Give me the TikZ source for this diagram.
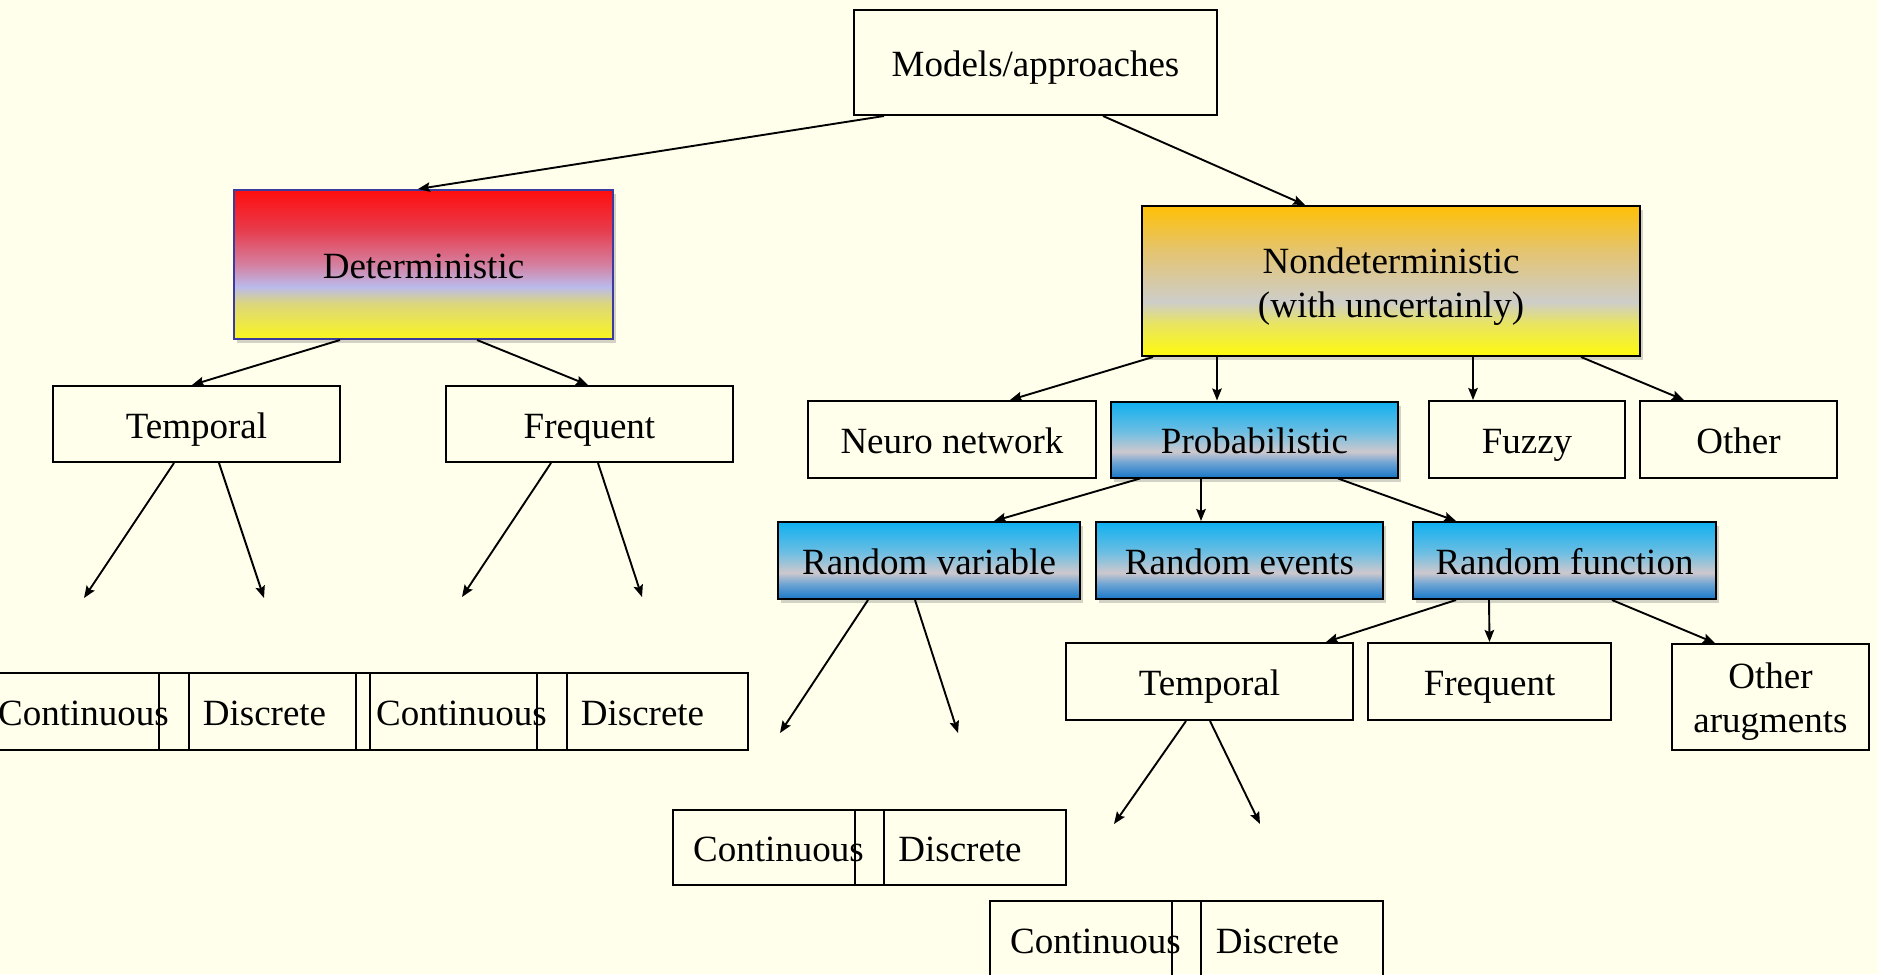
\documentclass[tikz,border=0pt]{standalone}
\usepackage{fontspec}
\setmainfont{Liberation Serif}
\usetikzlibrary{arrows.meta,shadows}
\definecolor{bg}{RGB}{255,255,235}
\definecolor{dA}{RGB}{250,246,30}
\definecolor{dB}{RGB}{220,214,125}
\definecolor{dC}{RGB}{186,186,236}
\definecolor{dD}{RGB}{212,128,160}
\definecolor{dE}{RGB}{232,58,74}
\definecolor{dF}{RGB}{255,14,14}
\definecolor{nA}{RGB}{255,250,12}
\definecolor{nB}{RGB}{232,228,100}
\definecolor{nC}{RGB}{205,205,202}
\definecolor{nD}{RGB}{228,196,112}
\definecolor{nE}{RGB}{255,192,6}
\definecolor{bA}{RGB}{25,120,200}
\definecolor{bB}{RGB}{112,165,212}
\definecolor{bC}{RGB}{205,200,205}
\definecolor{bD}{RGB}{110,190,226}
\definecolor{bE}{RGB}{15,176,240}
\definecolor{detborder}{RGB}{60,60,160}
\pgfdeclareverticalshading{detsh}{100bp}{color(0bp)=(dA); color(25bp)=(dA); color(37bp)=(dB); color(42.5bp)=(dC); color(50bp)=(dD); color(62bp)=(dE); color(75bp)=(dF); color(100bp)=(dF)}
\pgfdeclareverticalshading{nondetsh}{100bp}{color(0bp)=(nA); color(25bp)=(nA); color(36bp)=(nB); color(43bp)=(nC); color(60bp)=(nD); color(75bp)=(nE); color(100bp)=(nE)}
\pgfdeclareverticalshading{bluesh}{100bp}{color(0bp)=(bA); color(25bp)=(bA); color(35bp)=(bB); color(42bp)=(bC); color(55bp)=(bD); color(75bp)=(bE); color(100bp)=(bE)}
\tikzset{
  box/.style={draw=black, line width=2pt, rectangle, inner sep=0pt, align=center,
    font=\fontsize{37}{44}\selectfont, text height=30pt, text depth=2pt},
  twoline/.style={text height=80pt, text depth=8pt},
  shad/.style={drop shadow={opacity=0.35, shadow xshift=3pt, shadow yshift=-4pt}},
  arr/.style={-{Stealth[length=12pt,width=9.5pt,inset=2pt]}, line width=1.9pt},
  pair/.style={box, minimum width=211pt, minimum height=77pt},
}
\begin{document}
\begin{tikzpicture}[x=1pt,y=-1pt]
\fill[bg] (0,0) rectangle (1878,974);
\useasboundingbox (0,0) rectangle (1878,974);
\clip (0,0) rectangle (1878,974);

\node[box, minimum width=363pt, minimum height=105pt] (models) at (1035.5,62.5) {Models/approaches};
\node[box, shad, shading=detsh, draw=detborder, minimum width=379pt, minimum height=149pt] (det) at (423.5,264.5) {Deterministic};
\node[box, twoline, shad, shading=nondetsh, minimum width=498pt, minimum height=150pt] (nondet) at (1391,281) {Nondeterministic\\(with uncertainly)};

\node[box, minimum width=287pt, minimum height=76pt] (tempL) at (196.5,424) {Temporal};
\node[box, minimum width=287pt, minimum height=76pt] (freqL) at (589.5,424) {Frequent};

\node[box, minimum width=288pt, minimum height=77pt] (neuro) at (952,439.5) {Neuro network};
\node[box, shad, shading=bluesh, minimum width=287pt, minimum height=76pt] (prob) at (1254.5,439.5) {Probabilistic};
\node[box, minimum width=196pt, minimum height=77pt] (fuzzy) at (1527,439.5) {Fuzzy};
\node[box, minimum width=197pt, minimum height=77pt] (other) at (1738.5,439.5) {Other};

\node[box, shad, shading=bluesh, minimum width=302pt, minimum height=77pt] (rv) at (929,560.5) {Random variable};
\node[box, shad, shading=bluesh, minimum width=287pt, minimum height=77pt] (re) at (1239.5,560.5) {Random events};
\node[box, shad, shading=bluesh, minimum width=303pt, minimum height=77pt] (rf) at (1564.5,560.5) {Random function};

\node[box, minimum width=287pt, minimum height=77pt] (tempR) at (1209.5,681.5) {Temporal};
\node[box, minimum width=243pt, minimum height=77pt] (freqR) at (1489.5,681.5) {Frequent};
\node[box, text height=78pt, text depth=8pt, minimum width=197pt, minimum height=106pt] (otherarg) at (1770.5,697) {Other\\arugments};

\node[pair] (c1) at (83.5,711.5) {Continuous};
\node[pair] (d1) at (264.5,711.5) {Discrete};
\node[pair] (c2) at (461.5,711.5) {Continuous};
\node[pair] (d2) at (642.5,711.5) {Discrete};
\node[pair, minimum height=75pt] (c3) at (778.5,847.5) {Continuous};
\node[pair, minimum height=75pt] (d3) at (960,847.5) {Discrete};
\node[pair] (c4) at (1095.5,939.5) {Continuous};
\node[pair] (d4) at (1277.5,939.5) {Discrete};

\coordinate (e1) at (84,598);
\coordinate (e2) at (264,598);
\coordinate (e3) at (462,597);
\coordinate (e4) at (642,597);
\coordinate (e5) at (780,733);
\coordinate (e6) at (958,733);
\coordinate (e7) at (1114,824);
\coordinate (e8) at (1260,824);

\draw[arr] ([xshift=-151.5pt]models.south) -- ([xshift=-5.5pt]det.north);
\draw[arr] ([xshift=67.5pt]models.south) -- ([xshift=-86pt]nondet.north);
\draw[arr] ([xshift=-83.5pt]det.south) -- ([xshift=-4.5pt]tempL.north);
\draw[arr] ([xshift=53.5pt]det.south) -- ([xshift=-1.5pt]freqL.north);
\draw[arr] ([xshift=-22.5pt]tempL.south) -- (e1);
\draw[arr] ([xshift=22.5pt]tempL.south) -- (e2);
\draw[arr] ([xshift=-38.5pt]freqL.south) -- (e3);
\draw[arr] ([xshift=8.5pt]freqL.south) -- (e4);
\draw[arr] ([xshift=-238pt]nondet.south) -- ([xshift=58pt]neuro.north);
\draw[arr] ([xshift=-174pt]nondet.south) -- ([xshift=-37.5pt]prob.north);
\draw[arr] ([xshift=82pt]nondet.south) -- ([xshift=-54pt]fuzzy.north);
\draw[arr] ([xshift=190pt]nondet.south) -- ([xshift=-54.5pt]other.north);
\draw[arr] ([xshift=-114.5pt]prob.south) -- ([xshift=65pt]rv.north);
\draw[arr] ([xshift=-53.5pt]prob.south) -- ([xshift=-38.5pt]re.north);
\draw[arr] ([xshift=83.5pt]prob.south) -- ([xshift=-108.5pt]rf.north);
\draw[arr] ([xshift=-61pt]rv.south) -- (e5);
\draw[arr] ([xshift=-14pt]rv.south) -- (e6);
\draw[arr] ([xshift=-108.5pt]rf.south) -- ([xshift=116.5pt]tempR.north);
\draw[arr] ([xshift=-75.5pt]rf.south) -- ([xshift=0pt]freqR.north);
\draw[arr] ([xshift=47.5pt]rf.south) -- ([xshift=-55.5pt]otherarg.north);
\draw[arr] ([xshift=-23.5pt]tempR.south) -- (e7);
\draw[arr] ([xshift=0.5pt]tempR.south) -- (e8);
\end{tikzpicture}
\end{document}
